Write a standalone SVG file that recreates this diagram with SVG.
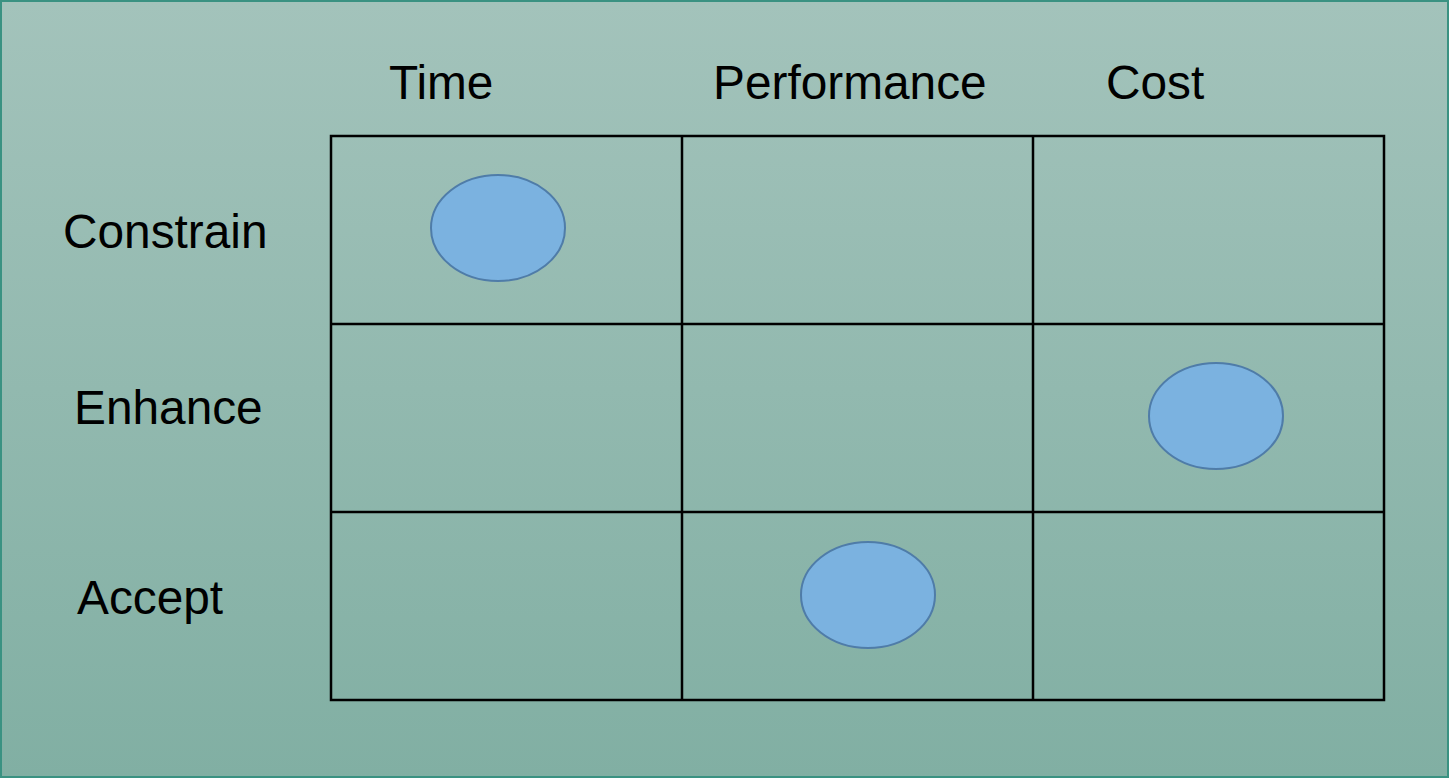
<svg xmlns="http://www.w3.org/2000/svg" width="1449" height="778" viewBox="0 0 1449 778">
<defs>
<linearGradient id="bg" x1="0" y1="0" x2="0" y2="1">
<stop offset="0" stop-color="#a3c3bb"/>
<stop offset="1" stop-color="#81afa3"/>
</linearGradient>
<style>
.lbl{font-family:"Liberation Sans",Arial,sans-serif;font-size:47.8px;fill:#000}
.grid{fill:none;stroke:#000;stroke-width:2.5}
.dot{fill:#7bb2e0;stroke:#4f7ca8;stroke-width:2}
</style>
</defs>
<rect x="1" y="1" width="1447" height="776" fill="url(#bg)" stroke="#3a9282" stroke-width="2"/>
<g id="headers">
<text class="lbl" x="389" y="99">Time</text>
<text class="lbl" x="713" y="99">Performance</text>
<text class="lbl" x="1106" y="99">Cost</text>
</g>
<g id="rows">
<text class="lbl" x="63" y="248">Constrain</text>
<text class="lbl" x="74" y="424">Enhance</text>
<text class="lbl" x="77" y="614">Accept</text>
</g>
<g id="connectors">
<rect class="grid" x="331" y="136" width="1053" height="564"/>
<line class="grid" x1="682" y1="136" x2="682" y2="700"/>
<line class="grid" x1="1033" y1="136" x2="1033" y2="700"/>
<line class="grid" x1="331" y1="324" x2="1384" y2="324"/>
<line class="grid" x1="331" y1="512" x2="1384" y2="512"/>
</g>
<g id="dot-constrain-time"><ellipse class="dot" cx="498" cy="228" rx="67" ry="53"/></g>
<g id="dot-enhance-cost"><ellipse class="dot" cx="1216" cy="416" rx="67" ry="53"/></g>
<g id="dot-accept-performance"><ellipse class="dot" cx="868" cy="595" rx="67" ry="53"/></g>
</svg>
